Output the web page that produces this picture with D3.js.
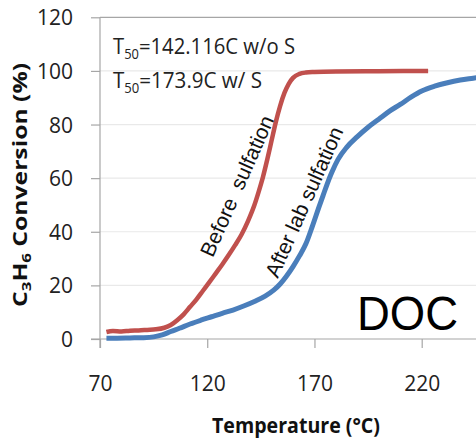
<!DOCTYPE html>
<html>
<head>
<meta charset="utf-8">
<script src="https://cdn.jsdelivr.net/npm/d3@7"></script>
<style>
  html, body { margin: 0; padding: 0; background: #fff; }
  svg { display: block; }
</style>
</head>
<body>
<svg id="chart" width="476" height="442"></svg>
<script>
// ---- data ----
const beforeTemp = [73, 76, 80, 84, 88, 92, 96, 100, 103, 106, 109, 112, 115, 118, 121, 124, 127, 130, 133, 136, 139, 142, 144, 146, 148, 150, 152, 154, 156, 158, 160, 163, 166, 170, 180, 200, 223];
const beforeConv = [2.6, 3.0, 2.8, 3.1, 3.2, 3.4, 3.6, 4.2, 5.2, 7.0, 9.2, 12, 14.8, 18, 21.2, 24.5, 27.8, 31.3, 35, 39, 44, 50, 55, 60.5, 67, 74, 81, 87, 91.8, 95.2, 97.4, 98.9, 99.4, 99.6, 99.8, 99.9, 100];
const afterTemp = [73, 78, 84, 90, 95, 99, 103, 107, 112, 117, 122, 127, 132, 137, 142, 147, 151, 154, 157, 160, 163, 166, 169, 172, 174, 176, 178, 181, 185, 190, 195, 200, 205, 210, 215, 220, 226, 232, 238, 244, 250];
const afterConv = [0.3, 0.3, 0.4, 0.5, 0.8, 1.5, 2.8, 4.0, 5.6, 7.0, 8.3, 9.6, 10.8, 12.3, 14.0, 16.0, 18.2, 20.5, 23.5, 27, 31, 35.5, 42, 49, 53.5, 58, 62, 67, 71.5, 75.5, 79, 82, 85, 87.5, 90.2, 92.5, 94.3, 95.6, 96.6, 97.3, 98];
const xTicks = [70, 120, 170, 220];
const yTicks = [0, 20, 40, 60, 80, 100, 120];
const annotations = ["142.116C w/o S", "173.9C w/ S"];
const curveLabels = ["Before  sulfation", "After lab sulfation"];
const panelLabel = "DOC";

// ---- layout ----
const svg = d3.select("#chart");
const x = d3.scaleLinear().domain([70, 220]).range([100, 421.7]);
const y = d3.scaleLinear().domain([0, 120]).range([339, 17.3]);
const axisColor = "#a6a6a6";
const gridColor = "#e9e9e9";
const labelFont = "'Open Sans', 'Noto Sans', sans-serif";
const arialFont = "'Liberation Sans', Arial, sans-serif";

svg.append("defs").append("clipPath").attr("id", "plotclip")
  .append("rect").attr("x", 100).attr("y", 0).attr("width", 376).attr("height", 345);

// gridlines
svg.append("g").selectAll("line").data(yTicks.filter(d => d > 0)).join("line")
  .attr("x1", 100).attr("x2", 476)
  .attr("y1", d => y(d)).attr("y2", d => y(d))
  .attr("stroke", d => d === 120 ? axisColor : gridColor)
  .attr("stroke-width", 1.2);

// y axis
const yAxis = svg.append("g").attr("transform", "translate(100,0)")
  .call(d3.axisLeft(y).tickValues(yTicks).tickSize(9).tickFormat(d3.format("d")));
yAxis.select(".domain").remove();
yAxis.selectAll(".tick line").attr("stroke", axisColor).attr("stroke-width", 1.2);
yAxis.selectAll(".tick text")
  .attr("x", -27).attr("dy", "0.36em")
  .attr("font-family", labelFont).attr("font-size", 21).attr("fill", "#222");

// x axis
const xAxis = svg.append("g").attr("transform", "translate(0,339)")
  .call(d3.axisBottom(x).tickValues(xTicks).tickSize(9).tickFormat(d3.format("d")));
xAxis.select(".domain").remove();
xAxis.selectAll(".tick line").attr("stroke", axisColor).attr("stroke-width", 1.2);
xAxis.selectAll(".tick text")
  .attr("y", 44).attr("dy", "0.36em")
  .attr("font-family", labelFont).attr("font-size", 21).attr("fill", "#222");

// axis lines
svg.append("line").attr("x1", 91).attr("x2", 476).attr("y1", y(0)).attr("y2", y(0))
  .attr("stroke", axisColor).attr("stroke-width", 1.2);
svg.append("line").attr("x1", x(70)).attr("x2", x(70)).attr("y1", y(120)).attr("y2", y(0) + 9)
  .attr("stroke", axisColor).attr("stroke-width", 1.2);

// curves
const line = d3.line().x(d => x(d[0])).y(d => y(d[1])).curve(d3.curveMonotoneX);
const plot = svg.append("g").attr("clip-path", "url(#plotclip)");
plot.append("path")
  .datum(afterTemp.map((t, i) => [t, afterConv[i]]))
  .attr("d", line).attr("fill", "none").attr("stroke", "#4a7ebb").attr("stroke-width", 5);
plot.append("path")
  .datum(beforeTemp.map((t, i) => [t, beforeConv[i]]))
  .attr("d", line).attr("fill", "none").attr("stroke", "#c0504d").attr("stroke-width", 4.5);

// T50 annotations
[[53.5, annotations[0], 182], [87.5, annotations[1], 149]].forEach(([by, txt, len]) => {
  const t = svg.append("text").attr("x", 113).attr("y", by)
    .attr("font-family", labelFont).attr("font-size", 22).attr("fill", "#222")
    .attr("textLength", len).attr("lengthAdjust", "spacingAndGlyphs");
  t.append("tspan").text("T");
  t.append("tspan").attr("font-size", 14).attr("dy", 5).text("50");
  t.append("tspan").attr("dy", -5).text("=" + txt);
});

// rotated curve labels
svg.append("text").attr("transform", "translate(237,186) rotate(-66)")
  .attr("text-anchor", "middle").attr("dy", "0.35em")
  .attr("font-family", arialFont).attr("font-size", 21).attr("fill", "#111")
  .attr("xml:space", "preserve").style("white-space", "pre")
  .text(curveLabels[0]);
svg.append("text").attr("transform", "translate(304,202) rotate(-66)")
  .attr("text-anchor", "middle").attr("dy", "0.35em")
  .attr("font-family", arialFont).attr("font-size", 21).attr("fill", "#111")
  .text(curveLabels[1]);

// DOC label
svg.append("text").attr("x", 357).attr("y", 329.5)
  .attr("font-family", arialFont).attr("font-size", 48).attr("fill", "#000")
  .attr("textLength", 101).attr("lengthAdjust", "spacingAndGlyphs")
  .text(panelLabel);

// axis titles
svg.append("text").attr("x", 212).attr("y", 433)
  .attr("font-family", labelFont).attr("font-weight", "bold").attr("font-size", 22).attr("fill", "#111")
  .attr("textLength", 168).attr("lengthAdjust", "spacingAndGlyphs")
  .text("Temperature (°C)");

const yt = svg.append("text").attr("transform", "translate(27,185) rotate(-90)")
  .attr("text-anchor", "middle")
  .attr("font-family", labelFont).attr("font-weight", "bold").attr("font-size", 19).attr("fill", "#111")
  .attr("textLength", 244).attr("lengthAdjust", "spacingAndGlyphs");
yt.append("tspan").text("C");
yt.append("tspan").attr("font-size", 13).attr("dy", 4).text("3");
yt.append("tspan").attr("dy", -4).text("H");
yt.append("tspan").attr("font-size", 13).attr("dy", 4).text("6");
yt.append("tspan").attr("dy", -4).text(" Conversion  (%)");
</script>
</body>
</html>
